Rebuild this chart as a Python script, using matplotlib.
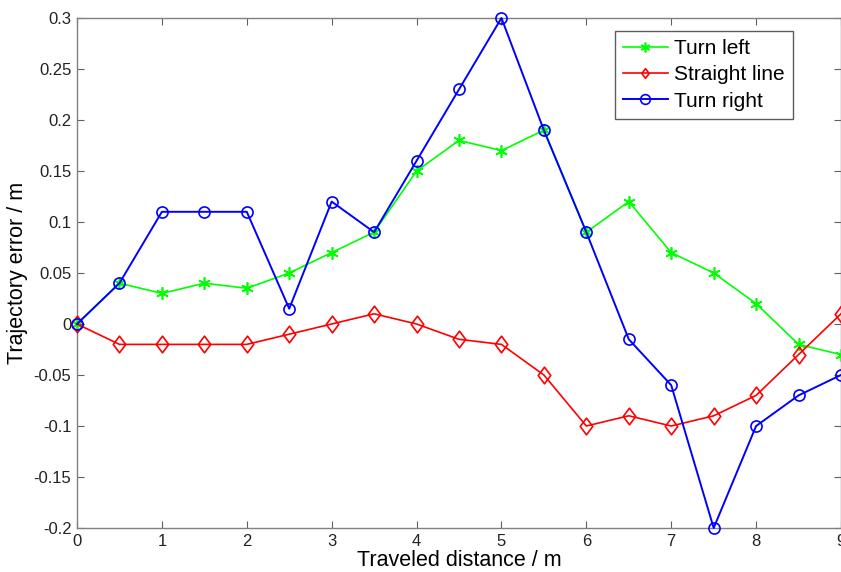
import matplotlib
matplotlib.use("Agg")
import matplotlib.pyplot as plt
from matplotlib.path import Path
import numpy as np

plt.rcParams['font.family'] = ['Liberation Sans', 'DejaVu Sans']

distance = [0, 0.5, 1, 1.5, 2, 2.5, 3, 3.5, 4, 4.5, 5, 5.5, 6, 6.5, 7, 7.5, 8, 8.5, 9]
turn_left = [0, 0.04, 0.03, 0.04, 0.035, 0.05, 0.07, 0.09, 0.15, 0.18, 0.17, 0.19,
             0.09, 0.12, 0.07, 0.05, 0.02, -0.02, -0.03]
straight_line = [0, -0.02, -0.02, -0.02, -0.02, -0.01, 0, 0.01, 0, -0.015, -0.02, -0.05,
                 -0.1, -0.09, -0.1, -0.09, -0.07, -0.03, 0.01]
turn_right = [0, 0.04, 0.11, 0.11, 0.11, 0.015, 0.12, 0.09, 0.16, 0.23, 0.30, 0.19,
              0.09, -0.015, -0.06, -0.2, -0.1, -0.07, -0.05]

xticks = [0, 1, 2, 3, 4, 5, 6, 7, 8, 9]
yticks = [-0.2, -0.15, -0.1, -0.05, 0, 0.05, 0.1, 0.15, 0.2, 0.25, 0.3]
yticklabels = ['-0.2', '-0.15', '-0.1', '-0.05', '0', '0.05', '0.1', '0.15', '0.2', '0.25', '0.3']

diamond = Path([(0, 1), (0.75, 0), (0, -1), (-0.75, 0), (0, 1)],
               [Path.MOVETO, Path.LINETO, Path.LINETO, Path.LINETO, Path.CLOSEPOLY])

fig = plt.figure(figsize=(8.41, 5.72), dpi=100)
ax = fig.add_axes([77/841, 1-528/572, 1-77/841, (528-18)/572])

ax.plot(distance, turn_left, color='#00ff00', marker=(6, 2, 0), markersize=9,
        markeredgewidth=1.2, linewidth=1.2, label='Turn left', clip_on=False, zorder=3)
ax.plot(distance, straight_line, color='#ff0000', marker=diamond, markersize=12,
        markerfacecolor='none', markeredgewidth=1.2, linewidth=1.2, label='Straight line',
        clip_on=False, zorder=3)
ax.plot(distance, turn_right, color='#0000ff', marker='o', markersize=8,
        markerfacecolor='none', markeredgewidth=1.2, linewidth=1.4, label='Turn right',
        clip_on=False, zorder=4)

ax.set_xlim(0, 9)
ax.set_ylim(-0.2, 0.3)
ax.set_xticks(xticks)
ax.set_xticklabels([str(t) for t in xticks])
ax.set_yticks(yticks)
ax.set_yticklabels(yticklabels)

for s in ax.spines.values():
    s.set_color('#808080')
    s.set_linewidth(1.0)
ax.tick_params(direction='in', top=True, right=True, length=5, width=0.8,
               color='#606060', labelsize=12, labelcolor='#222222', pad=4)

ax.set_xlabel('Traveled distance / m', fontsize=15.5, labelpad=1)
ax.set_ylabel('Trajectory error / m', fontsize=15.5, labelpad=4)

leg = ax.legend(loc='upper right', bbox_to_anchor=(0.937, 0.975), fontsize=15,
                frameon=True, fancybox=False, edgecolor='#333333', handlelength=2.15,
                borderpad=0.4, labelspacing=0.35, handletextpad=0.3, borderaxespad=0)
leg.get_frame().set_linewidth(1.0)
for h in leg.legend_handles:
    h.set_markersize(7)

fig.savefig('out.png', dpi=100)
